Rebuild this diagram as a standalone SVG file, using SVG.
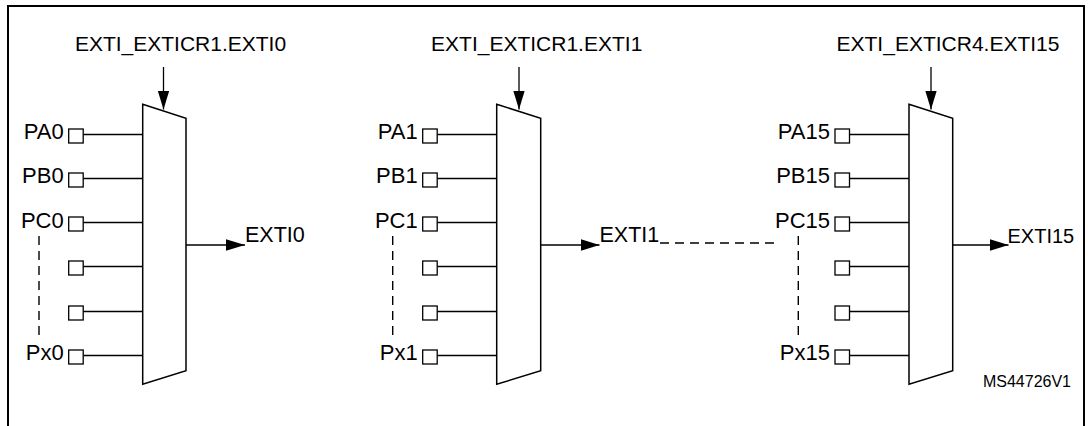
<svg xmlns="http://www.w3.org/2000/svg" width="1088" height="426" viewBox="0 0 1088 426">
<style>
  .t { font-family: "Liberation Sans", Arial, sans-serif; font-size: 21px; fill: #000; }
  .pin { text-anchor: end; font-size: 22px; }
  .out { font-size: 21.5px; }
  .out15 { font-size: 20px; }
  .sel { text-anchor: middle; }
  .id { font-family: "Liberation Sans", Arial, sans-serif; font-size: 16px; fill: #000; text-anchor: end; }
  .mux { fill: #fff; stroke: #000; stroke-width: 1.5; }
  .sq { fill: #fff; stroke: #000; stroke-width: 1.3; }
  .w { stroke: #000; stroke-width: 1.3; fill: none; }
  .arr { stroke: #000; stroke-width: 1.3; fill: none; marker-end: url(#ah); }
  .dash { stroke: #000; stroke-width: 1.4; fill: none; stroke-dasharray: 9 6; }
  .frame { stroke: #000; stroke-width: 2; fill: none; }
</style>
<defs>
  <marker id="ah" markerUnits="userSpaceOnUse" markerWidth="20" markerHeight="12" refX="19" refY="5.8" orient="auto">
    <path d="M0,0 L19,5.8 L0,11.6 Z" fill="#000"/>
  </marker>
</defs>

<path class="frame" d="M8,426 V6 H1084 V426"/>

<g id="connectors">
  <path class="w" d="M83.2,134.5 H142.7 M83.2,178.5 H142.7 M83.2,222.5 H142.7 M83.2,266.5 H142.7 M83.2,311.5 H142.7 M83.2,355.5 H142.7"/>
  <path class="w" d="M437.2,134.5 H496.7 M437.2,178.5 H496.7 M437.2,222.5 H496.7 M437.2,266.5 H496.7 M437.2,311.5 H496.7 M437.2,355.5 H496.7"/>
  <path class="w" d="M849.5,134.5 H909 M849.5,178.5 H909 M849.5,222.5 H909 M849.5,266.5 H909 M849.5,311.5 H909 M849.5,355.5 H909"/>
  <line class="arr" x1="163.5" y1="67" x2="163.5" y2="109.5"/>
  <line class="arr" x1="519" y1="67" x2="519" y2="109.5"/>
  <line class="arr" x1="931" y1="67" x2="931" y2="109.5"/>
  <line class="arr" x1="186" y1="245" x2="245" y2="245"/>
  <line class="arr" x1="540.7" y1="245" x2="599.5" y2="245"/>
  <line class="arr" x1="952.7" y1="245" x2="1008.5" y2="245"/>
  <line class="dash" x1="39" y1="236" x2="39" y2="338"/>
  <line class="dash" x1="392.7" y1="236" x2="392.7" y2="338"/>
  <line class="dash" x1="798.3" y1="236" x2="798.3" y2="338"/>
  <line class="dash" x1="660" y1="243" x2="776" y2="243"/>
</g>

<g id="mux0">
  <polygon class="mux" points="142.7,104.3 186,118.3 186,370.7 142.7,384.3"/>
  <text class="t sel" x="180.5" y="51">EXTI_EXTICR1.EXTI0</text>
  <text class="t out" x="245" y="241.7">EXTI0</text>
  <g id="mux0-pins">
    <rect class="sq" x="68.7" y="129" width="14.5" height="14"/>
    <rect class="sq" x="68.7" y="173" width="14.5" height="14"/>
    <rect class="sq" x="68.7" y="217" width="14.5" height="14"/>
    <rect class="sq" x="68.7" y="261" width="14.5" height="14"/>
    <rect class="sq" x="68.7" y="306" width="14.5" height="14"/>
    <rect class="sq" x="68.7" y="350" width="14.5" height="14"/>
    <text class="t pin" x="63.7" y="139">PA0</text>
    <text class="t pin" x="63.7" y="183.3">PB0</text>
    <text class="t pin" x="63.7" y="227.6">PC0</text>
    <text class="t pin" x="63.7" y="360">Px0</text>
  </g>
</g>

<g id="mux1">
  <polygon class="mux" points="496.7,104.3 540.7,118.3 540.7,370.7 496.7,384.3"/>
  <text class="t sel" x="536.7" y="51">EXTI_EXTICR1.EXTI1</text>
  <text class="t out" x="599.5" y="241.7">EXTI1</text>
  <g id="mux1-pins">
    <rect class="sq" x="422.7" y="129" width="14.5" height="14"/>
    <rect class="sq" x="422.7" y="173" width="14.5" height="14"/>
    <rect class="sq" x="422.7" y="217" width="14.5" height="14"/>
    <rect class="sq" x="422.7" y="261" width="14.5" height="14"/>
    <rect class="sq" x="422.7" y="306" width="14.5" height="14"/>
    <rect class="sq" x="422.7" y="350" width="14.5" height="14"/>
    <text class="t pin" x="417.7" y="139">PA1</text>
    <text class="t pin" x="417.7" y="183.3">PB1</text>
    <text class="t pin" x="417.7" y="227.6">PC1</text>
    <text class="t pin" x="417.7" y="360">Px1</text>
  </g>
</g>

<g id="mux15">
  <polygon class="mux" points="909,104.3 952.7,118.3 952.7,370.7 909,384.3"/>
  <text class="t sel" x="948" y="51">EXTI_EXTICR4.EXTI15</text>
  <text class="t out15" x="1007.5" y="242.5">EXTI15</text>
  <g id="mux15-pins">
    <rect class="sq" x="835" y="129" width="14.5" height="14"/>
    <rect class="sq" x="835" y="173" width="14.5" height="14"/>
    <rect class="sq" x="835" y="217" width="14.5" height="14"/>
    <rect class="sq" x="835" y="261" width="14.5" height="14"/>
    <rect class="sq" x="835" y="306" width="14.5" height="14"/>
    <rect class="sq" x="835" y="350" width="14.5" height="14"/>
    <text class="t pin" x="830" y="139">PA15</text>
    <text class="t pin" x="830" y="183.3">PB15</text>
    <text class="t pin" x="830" y="227.6">PC15</text>
    <text class="t pin" x="830" y="360">Px15</text>
  </g>
</g>

<text class="id" x="1071" y="387.3">MS44726V1</text>
</svg>
